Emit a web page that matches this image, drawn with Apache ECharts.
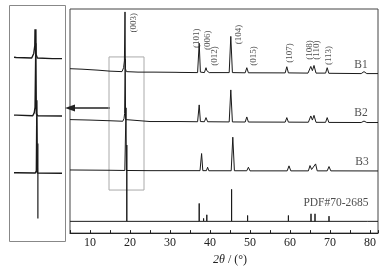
<!DOCTYPE html>
<html><head><meta charset="utf-8">
<script src="https://cdn.jsdelivr.net/npm/echarts@6/dist/echarts.min.js"></script>
<style>html,body{margin:0;padding:0;background:#fff}#c{width:389px;height:271px}</style>
</head><body><div id="c"></div>
<script>
// 2θ (°) vs stacked intensity (offset units)
const b1 = [[5,168],[8,167.5],[12,166.5],[15,165.5],[18.0,165],[18.4,169],[18.6,176],[18.75,226],[18.85,168],[19.1,165],[22,164.5],[26,164.5],[31.5,164.3],[32,166],[32.5,164.2],[36.9,164],[37.3,194],[37.6,164.5],[38.6,164],[39.0,169],[39.2,166],[39.45,167],[39.8,164],[44.8,164],[45.2,201],[45.6,164],[48.8,163.8],[49.2,169],[49.6,163.8],[58.8,163.7],[59.2,170],[59.6,163.7],[64.5,163.5],[65.2,170.3],[65.6,166],[66.0,171.3],[66.5,163.5],[68.9,163.5],[69.3,169],[69.7,163.3],[77.8,163],[78.5,165],[79.2,163],[82,163]];
const b2 = [[5,116],[10,115.5],[15,114.8],[18.2,114.3],[18.5,117],[18.65,122],[18.8,178],[18.9,116],[19.2,114.2],[25,114],[31.5,114],[32,115.5],[32.5,114],[36.9,113.8],[37.3,131],[37.6,114],[38.6,113.8],[39.0,118],[39.4,113.8],[44.8,113.6],[45.2,146.3],[45.6,113.6],[48.8,113.5],[49.2,118.7],[49.6,113.5],[58.8,113.4],[59.2,118],[59.6,113.4],[64.6,113.3],[65.2,119.7],[65.6,115.5],[66.0,120.3],[66.5,113.2],[68.9,113.2],[69.3,118],[69.7,113.1],[77.8,113],[78.5,114.5],[79.2,113],[82,113]];
const b3 = [[5,64.5],[15,64.2],[18.7,64],[18.9,66],[19.0,128],[19.1,64],[25,63.8],[37.5,63.8],[37.9,81.3],[38.2,63.8],[39.1,63.8],[39.4,67.3],[39.7,63.7],[45.3,63.7],[45.7,98],[46.1,63.7],[49.2,63.7],[49.6,67.3],[50.0,63.6],[59.3,63.6],[59.75,68.7],[60.2,63.6],[64.6,63.6],[65.0,69],[65.4,65],[65.7,64.5],[66.4,70.7],[66.8,63.6],[69.3,63.6],[69.75,68],[70.2,63.6],[82,63.5]];
const pdfBase = 12;
const pdfPos = [19.2, 37.3, 38.4, 39.2, 45.4, 49.4, 59.6, 65.25, 66.25, 69.75, 78.5, 79.3];
const pdfInt = [78, 18.3, 3, 6.7, 32.7, 6, 6, 7.7, 7.7, 5.3, 2, 2];
const peakNames = ['(003)','(101)','(006)','(012)','(104)','(015)','(107)','(108)','(110)','(113)'];
const peakLabelX = [20.8, 36.75, 39.5, 41.25, 47.1, 51.0, 59.9, 65.0, 66.75, 69.75];
const peakLabelY = [215, 199, 197, 181, 203, 181, 184, 187, 187, 181.5];
const sampleNames = ['B1','B2','B3','PDF#70-2685'];
const sampleLabelX = [77.75, 77.75, 78, 71.5];
const sampleLabelY = [171.3, 123, 73, 30.7];
const zoomBox = {x0: 14.75, x1: 23.5, y0: 44, y1: 180};
const xTicks = [10,20,30,40,50,60,70,80];

const F = 'Liberation Serif';
const pdfData = [[5, pdfBase]];
pdfPos.forEach((p, i) => { pdfData.push([p, pdfBase], [p, pdfBase + pdfInt[i]], [p, pdfBase]); });
pdfData.push([82, pdfBase]);

const traceStyle = (w) => ({color: '#1a1a1a', width: w});
function trace(data, xi, w) {
  return {type: 'line', data, xAxisIndex: xi, yAxisIndex: xi, showSymbol: false, symbol: 'none',
    lineStyle: traceStyle(w), clip: true, z: 3, silent: true};
}
const chart = echarts.init(document.getElementById('c'), null, {renderer: 'canvas'});
chart.setOption({
  animation: false,
  backgroundColor: '#fff',
  grid: [
    {left: 70, top: 9, width: 308, height: 229, show: true, borderColor: '#444', borderWidth: 1, backgroundColor: 'transparent'},
    {left: 15, top: 30, width: 45, height: 188, show: false}
  ],
  xAxis: [
    {type: 'value', gridIndex: 0, min: 5, max: 82, interval: 5,
      axisLine: {lineStyle: {color: '#222'}},
      axisTick: {inside: true, length: 3, lineStyle: {color: '#222'}},
      splitLine: {show: false},
      axisLabel: {margin: 4, fontFamily: F, fontSize: 12, color: '#222',
        formatter: v => xTicks.includes(v) ? String(v) : ''},
      name: '{i|2θ} / (°)', nameLocation: 'middle', nameGap: 14,
      nameTextStyle: {fontFamily: F, fontSize: 12, color: '#222', padding: [0, 0, 0, 12],
        rich: {i: {fontFamily: F, fontSize: 12, fontStyle: 'italic', color: '#222'}}}
    },
    {type: 'value', gridIndex: 1, min: zoomBox.x0, max: zoomBox.x1, show: false}
  ],
  yAxis: [
    {type: 'value', gridIndex: 0, min: 0, max: 229, show: false},
    {type: 'value', gridIndex: 1, min: 24.5, max: 189.6, show: false}
  ],
  graphic: [
    {type: 'rect', shape: {x: 9.5, y: 5.5, width: 56, height: 236}, style: {fill: 'none', stroke: '#888', lineWidth: 1}},
    {type: 'line', shape: {x1: 110, y1: 108, x2: 72, y2: 108}, style: {stroke: '#222', lineWidth: 1.6}},
    {type: 'polygon', shape: {points: [[65, 108], [75, 104.5], [75, 111.5]]}, style: {fill: '#222'}}
  ],
  series: [
    {type: 'line', data: [[zoomBox.x0, zoomBox.y1], [zoomBox.x1, zoomBox.y1], [zoomBox.x1, zoomBox.y0], [zoomBox.x0, zoomBox.y0], [zoomBox.x0, zoomBox.y1]],
      xAxisIndex: 0, yAxisIndex: 0, showSymbol: false, symbol: 'none', lineStyle: {color: '#aaa', width: 1}, z: 1, silent: true},
    trace(b1, 0, 1), trace(b2, 0, 1), trace(b3, 0, 1), trace(pdfData, 0, 1),
    trace(b1, 1, 1.4), trace(b2, 1, 1.4), trace(b3, 1, 1.4), trace(pdfData, 1, 1.2),
    {type: 'scatter', xAxisIndex: 0, yAxisIndex: 0, symbolSize: 0, silent: true, z: 5,
      data: peakNames.map((n, i) => ({name: n, value: [peakLabelX[i], peakLabelY[i]]})),
      label: {show: true, position: 'inside', rotate: 90, formatter: p => p.name,
        fontFamily: F, fontSize: 9, color: '#222', align: 'center', verticalAlign: 'middle'}},
    {type: 'scatter', xAxisIndex: 0, yAxisIndex: 0, symbolSize: 0, silent: true, z: 5,
      data: sampleNames.map((n, i) => ({name: n, value: [sampleLabelX[i], sampleLabelY[i]]})),
      label: {show: true, position: 'inside', formatter: p => p.name,
        fontFamily: F, fontSize: 11.5, color: '#222', align: 'center', verticalAlign: 'middle'}}
  ]
});
</script></body></html>
